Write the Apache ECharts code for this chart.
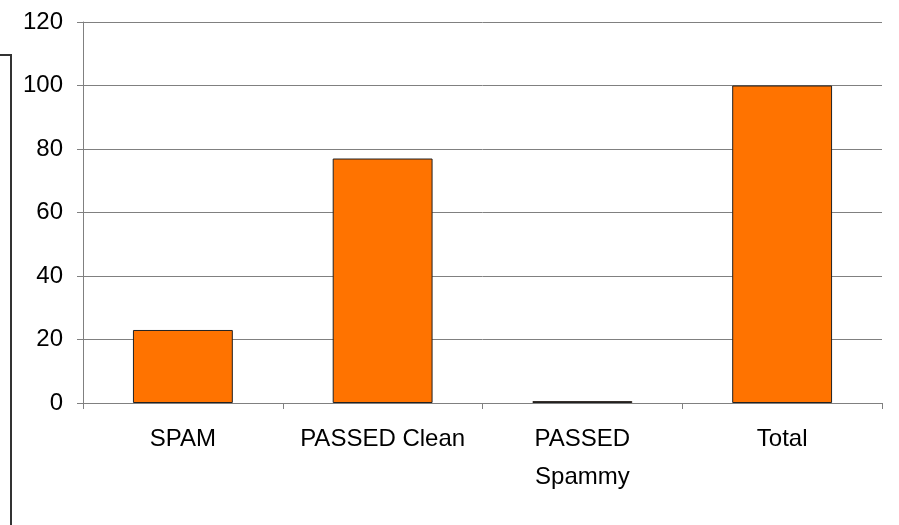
<!DOCTYPE html>
<html>
<head>
<meta charset="utf-8">
<script src="https://cdn.jsdelivr.net/npm/echarts@6/dist/echarts.min.js"></script>
<style>
  html, body { margin: 0; padding: 0; background: #fff; }
  #chart { width: 899px; height: 525px; }
</style>
</head>
<body>
<div id="chart"></div>
<script>
const categories = ['SPAM', 'PASSED Clean', 'PASSED\nSpammy', 'Total']
const values = [23, 77, 0.6, 100]
const yTicks = [0, 20, 40, 60, 80, 100, 120]

const chart = echarts.init(document.getElementById('chart'))
const font = 'Liberation Sans, Arial, sans-serif'
const option = {
    animation: false,
    grid: { left: 83, right: 17, top: 22, bottom: 122 },
    graphic: [{
        type: 'polyline',
        shape: { points: [[0, 55], [11, 55], [11, 525]] },
        style: { stroke: '#333', lineWidth: 2, fill: null }
    }],
    xAxis: {
        type: 'category',
        data: categories,
        axisLine: { lineStyle: { color: '#808080', width: 1 } },
        axisTick: { show: true, length: 6, lineStyle: { color: '#808080' } },
        axisLabel: {
            color: '#000', fontSize: 24, fontFamily: font,
            margin: 17, lineHeight: 38, interval: 0
        }
    },
    yAxis: {
        type: 'value',
        min: yTicks[0],
        max: yTicks[yTicks.length - 1],
        interval: 20,
        axisLine: { show: true, lineStyle: { color: '#808080', width: 1 } },
        axisTick: { show: true, length: 6, lineStyle: { color: '#808080' } },
        splitLine: { lineStyle: { color: '#808080', width: 1 } },
        axisLabel: { color: '#000', fontSize: 24, fontFamily: font, margin: 20 }
    },
    series: [{
        type: 'bar',
        data: values,
        barWidth: '50%',
        itemStyle: { color: '#FF7300', borderColor: '#222', borderWidth: 1 }
    }]
}
chart.setOption(option)
</script>
</body>
</html>
